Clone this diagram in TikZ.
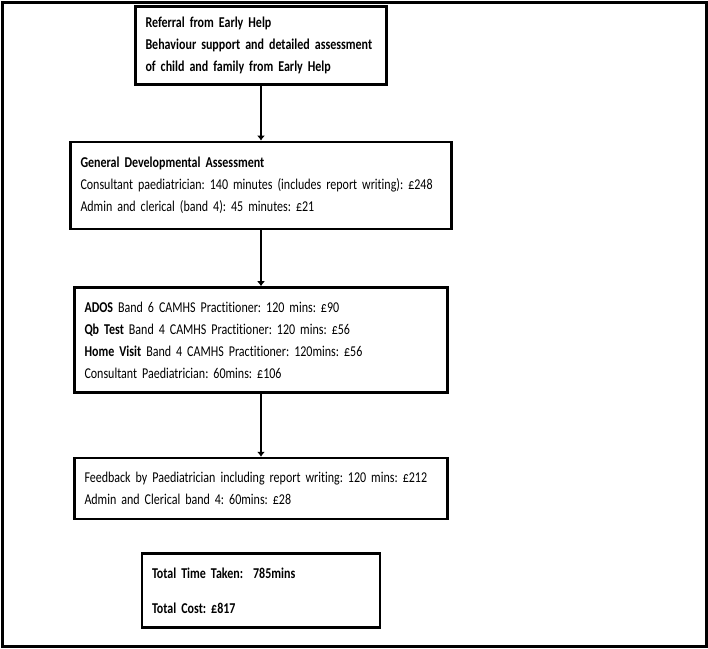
\documentclass[tikz,border=0pt]{standalone}
\usepackage{fontspec}
\setmainfont{Carlito}[FakeStretch=0.8,Ligatures=NoCommon]
\usetikzlibrary{arrows.meta,positioning,calc}
\frenchspacing
\hyphenpenalty=10000

\begin{document}
\begin{tikzpicture}[
            x=1pt,y=1pt,
            >=Latex,
            box/.style={draw,rectangle,line width=2.6pt,fill=white,align=left,
                        inner xsep=10pt,inner ysep=0pt,
                        font=\fontsize{15}{22}\selectfont},
            line/.style={-{Latex[length=5pt,width=8pt]},line width=2.6pt}
        ]
        \useasboundingbox (0,0) rectangle (708,-648);
        \draw[line width=3pt] (2,-2) rectangle (706,-646);
        \node[box,text width=231pt,minimum height=78pt,anchor=north] (referral) at (261,-5)
            {\textbf{Referral from Early Help}\\
             \textbf{Behaviour support and detailed assessment}\\
             \textbf{of child and family from Early Help}};
        \node[box,text width=361pt,minimum height=87pt,below=55pt of referral] (general)
            {\textbf{General Developmental Assessment}\\
             Consultant paediatrician: 140 minutes (includes report writing): £248\\
             Admin and clerical (band 4): 45 minutes: £21};
        \node[box,text width=353pt,minimum height=105pt,below=56pt of general] (ados)
            {\textbf{ADOS} Band 6 CAMHS Practitioner: 120 mins: £90\\
             \textbf{Qb Test} Band 4 CAMHS Practitioner: 120 mins: £56\\
             \textbf{Home Visit} Band 4 CAMHS Practitioner: 120mins: £56\\
             Consultant Paediatrician: 60mins: £106};
        \node[box,text width=353pt,minimum height=61pt,below=63pt of ados] (feedback)
            {Feedback by Paediatrician including report writing: 120 mins: £212\\
             Admin and Clerical band 4: 60mins: £28};
        \node[box,text width=218pt,minimum height=74pt,below=32pt of feedback] (total)
            {\textbf{Total Time Taken:~~785mins}\\[13pt]
             \textbf{Total Cost: £817}};
        % arrows
        \draw[line] (referral.south) -- (general.north);
        \draw[line] (general.south) -- (ados.north);
        \draw[line] (ados.south) -- (feedback.north);
\end{tikzpicture}
\end{document}
